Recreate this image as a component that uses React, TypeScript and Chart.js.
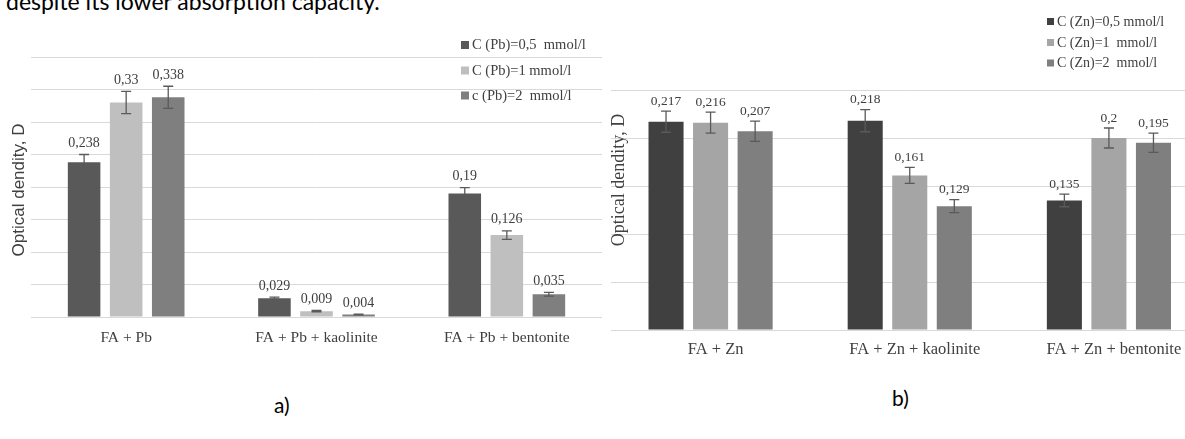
import React, { useEffect, useRef } from "react";
import { Chart, registerables } from "chart.js";
Chart.register(...registerables);

// ---------- data: chart a (Pb) ----------
const categoriesA = ["FA + Pb", "FA + Pb + kaolinite", "FA + Pb + bentonite"];
const seriesNamesA = ["C (Pb)=0,5  mmol/l", "C (Pb)=1 mmol/l", "c (Pb)=2  mmol/l"];
const pb05 = [0.238, 0.029, 0.19];
const pb1 = [0.33, 0.009, 0.126];
const pb2 = [0.338, 0.004, 0.035];
const pb05Err = [0.012, 0.0015, 0.009];
const pb1Err = [0.017, 0.001, 0.0066];
const pb2Err = [0.017, 0.0005, 0.003];
const yTicksA = { min: 0, max: 0.4, step: 0.05 };

// ---------- data: chart b (Zn) ----------
const categoriesB = ["FA + Zn", "FA + Zn + kaolinite", "FA + Zn + bentonite"];
const seriesNamesB = ["C (Zn)=0,5 mmol/l", "C (Zn)=1  mmol/l", "C (Zn)=2  mmol/l"];
const zn05 = [0.217, 0.218, 0.135];
const zn1 = [0.216, 0.161, 0.2];
const zn2 = [0.207, 0.129, 0.195];
const zn05Err = [0.011, 0.0115, 0.0066];
const zn1Err = [0.011, 0.0083, 0.0104];
const zn2Err = [0.0105, 0.0068, 0.01];
const yTicksB = { min: 0, max: 0.25, step: 0.05 };

const axisTitle = "Optical dendity, D";

const fmt = (v: number) => String(v).replace(".", ",");

type OverlayCfg = {
  key: string;
  errors: number[][];
  labelFont: string;
  labelGap: number;
  legendNames: string[];
  legendColors: string[];
  legendX: number;
  legendY: number[];
  legendFont: string;
  sq: number;
  titleFont: string;
  titleX: number;
  titleY: number;
};

function makeOverlay(cfg: OverlayCfg) {
  return {
    id: "overlay_" + cfg.key,
    afterDatasetsDraw(chart: any) {
      const ctx = chart.ctx as CanvasRenderingContext2D;
      const ys = chart.scales.y;
      chart.data.datasets.forEach((ds: any, di: number) => {
        const meta = chart.getDatasetMeta(di);
        meta.data.forEach((bar: any, i: number) => {
          const v = ds.data[i] as number;
          const e = cfg.errors[di][i];
          const x = bar.x;
          const yHi = ys.getPixelForValue(v + e);
          const yLo = ys.getPixelForValue(v - e);
          ctx.save();
          ctx.strokeStyle = "#5a5a5a";
          ctx.lineWidth = 1.3;
          ctx.beginPath();
          ctx.moveTo(x, yLo);
          ctx.lineTo(x, yHi);
          ctx.moveTo(x - 5, yHi);
          ctx.lineTo(x + 5, yHi);
          ctx.moveTo(x - 5, yLo);
          ctx.lineTo(x + 5, yLo);
          ctx.stroke();
          ctx.fillStyle = "#404040";
          ctx.font = cfg.labelFont;
          ctx.textAlign = "center";
          ctx.textBaseline = "middle";
          ctx.fillText(fmt(v), x, yHi - cfg.labelGap);
          ctx.restore();
        });
      });
      // legend
      ctx.save();
      ctx.font = cfg.legendFont;
      ctx.textAlign = "left";
      ctx.textBaseline = "middle";
      cfg.legendNames.forEach((name, i) => {
        const y = cfg.legendY[i];
        ctx.fillStyle = cfg.legendColors[i];
        ctx.fillRect(cfg.legendX, y - cfg.sq / 2, cfg.sq, cfg.sq);
        ctx.fillStyle = "#404040";
        ctx.fillText(name, cfg.legendX + cfg.sq + 3, y + 0.5);
      });
      ctx.restore();
      // y title
      ctx.save();
      ctx.translate(cfg.titleX, cfg.titleY);
      ctx.rotate(-Math.PI / 2);
      ctx.font = cfg.titleFont;
      ctx.fillStyle = "#404040";
      ctx.textAlign = "center";
      ctx.textBaseline = "middle";
      ctx.fillText(axisTitle, 0, 0);
      ctx.restore();
    },
  };
}

function buildChart(
  canvas: HTMLCanvasElement,
  labels: string[],
  series: number[][],
  colors: string[],
  names: string[],
  ticks: { min: number; max: number; step: number },
  layout: {
    top: number;
    right: number;
    yWidth: number;
    xHeight: number;
    cp: number;
    bp: number;
    tickFont: number;
    tickPad: number;
    labelOffset: number;
  },
  overlay: any
) {
  return new Chart(canvas, {
    type: "bar",
    data: {
      labels,
      datasets: series.map((d, i) => ({
        label: names[i],
        data: d,
        backgroundColor: colors[i],
        borderWidth: 0,
        categoryPercentage: layout.cp,
        barPercentage: layout.bp,
      })),
    },
    options: {
      responsive: false,
      animation: false,
      events: [],
      layout: { padding: { top: layout.top, right: layout.right, left: 0, bottom: 0 } },
      plugins: { legend: { display: false }, tooltip: { enabled: false }, title: { display: false } },
      scales: {
        x: {
          grid: { display: false, drawTicks: false },
          border: { display: false },
          ticks: {
            color: "#404040",
            font: { family: "Liberation Serif", size: layout.tickFont },
            padding: layout.tickPad,
            labelOffset: layout.labelOffset,
            maxRotation: 0,
            autoSkip: false,
          },
          afterFit: (s: any) => {
            s.height = layout.xHeight;
          },
        },
        y: {
          min: ticks.min,
          max: ticks.max,
          grid: { color: "#d9d9d9", lineWidth: 1, drawTicks: false },
          border: { display: false },
          ticks: { display: false, stepSize: ticks.step },
          afterFit: (s: any) => {
            s.width = layout.yWidth;
          },
        },
      },
    } as any,
    plugins: [overlay],
  });
}

export default function App() {
  const refA = useRef<HTMLCanvasElement>(null);
  const refB = useRef<HTMLCanvasElement>(null);

  useEffect(() => {
    const colorsA = ["#595959", "#bfbfbf", "#7f7f7f"];
    const colorsB = ["#404040", "#a5a5a5", "#7f7f7f"];
    const chartA = buildChart(
      refA.current!,
      categoriesA,
      [pb05, pb1, pb2],
      colorsA,
      seriesNamesA,
      yTicksA,
      { top: 57, right: 2, yWidth: 31, xHeight: 43, cp: 0.663, bp: 0.774, tickFont: 15.5, tickPad: 12, labelOffset: 0 },
      makeOverlay({
        key: "a",
        errors: [pb05Err, pb1Err, pb2Err],
        labelFont: "14px 'Liberation Serif'",
        labelGap: 11,
        legendNames: seriesNamesA,
        legendColors: colorsA,
        legendX: 461,
        legendY: [45, 70.5, 95.5],
        legendFont: "14.5px 'Liberation Serif'",
        sq: 8,
        titleFont: "17px 'Liberation Sans'",
        titleX: 19,
        titleY: 190,
      })
    );
    const chartB = buildChart(
      refB.current!,
      categoriesB,
      [zn05, zn1, zn2],
      colorsB,
      seriesNamesB,
      yTicksB,
      { top: 90, right: 6.5, yWidth: 6, xHeight: 40, cp: 0.671, bp: 0.787, tickFont: 16.5, tickPad: 10, labelOffset: 5 },
      makeOverlay({
        key: "b",
        errors: [zn05Err, zn1Err, zn2Err],
        labelFont: "13.5px 'Liberation Serif'",
        labelGap: 10,
        legendNames: seriesNamesB,
        legendColors: colorsB,
        legendX: 442,
        legendY: [21.5, 42.5, 63],
        legendFont: "14px 'Liberation Serif'",
        sq: 7,
        titleFont: "18px 'Liberation Serif'",
        titleX: 14,
        titleY: 180,
      })
    );
    return () => {
      chartA.destroy();
      chartB.destroy();
    };
  }, []);

  return (
    <div
      style={{
        position: "absolute",
        left: 0,
        top: 0,
        width: 1185,
        height: 439,
        overflow: "hidden",
        background: "#ffffff",
      }}
    >
      <div
        style={{
          position: "absolute",
          left: 6,
          top: -10,
          fontFamily: "Lato, 'Open Sans', sans-serif",
          fontSize: 23,
          lineHeight: "23px",
          color: "#000",
          whiteSpace: "nowrap",
        }}
      >
        despite its lower absorption capacity.
      </div>
      <canvas
        ref={refA}
        width={604}
        height={360}
        style={{ position: "absolute", left: 0, top: 0, width: 604, height: 360 }}
      />
      <canvas
        ref={refB}
        width={610}
        height={370}
        style={{ position: "absolute", left: 605, top: 0, width: 610, height: 370 }}
      />
      <div
        style={{
          position: "absolute",
          left: 274,
          top: 393,
          fontFamily: "Lato, 'Open Sans', sans-serif",
          fontSize: 21,
          lineHeight: "24px",
          color: "#000",
        }}
      >
        a)
      </div>
      <div
        style={{
          position: "absolute",
          left: 892,
          top: 386,
          fontFamily: "Lato, 'Open Sans', sans-serif",
          fontSize: 21,
          lineHeight: "24px",
          color: "#000",
        }}
      >
        b)
      </div>
    </div>
  );
}
